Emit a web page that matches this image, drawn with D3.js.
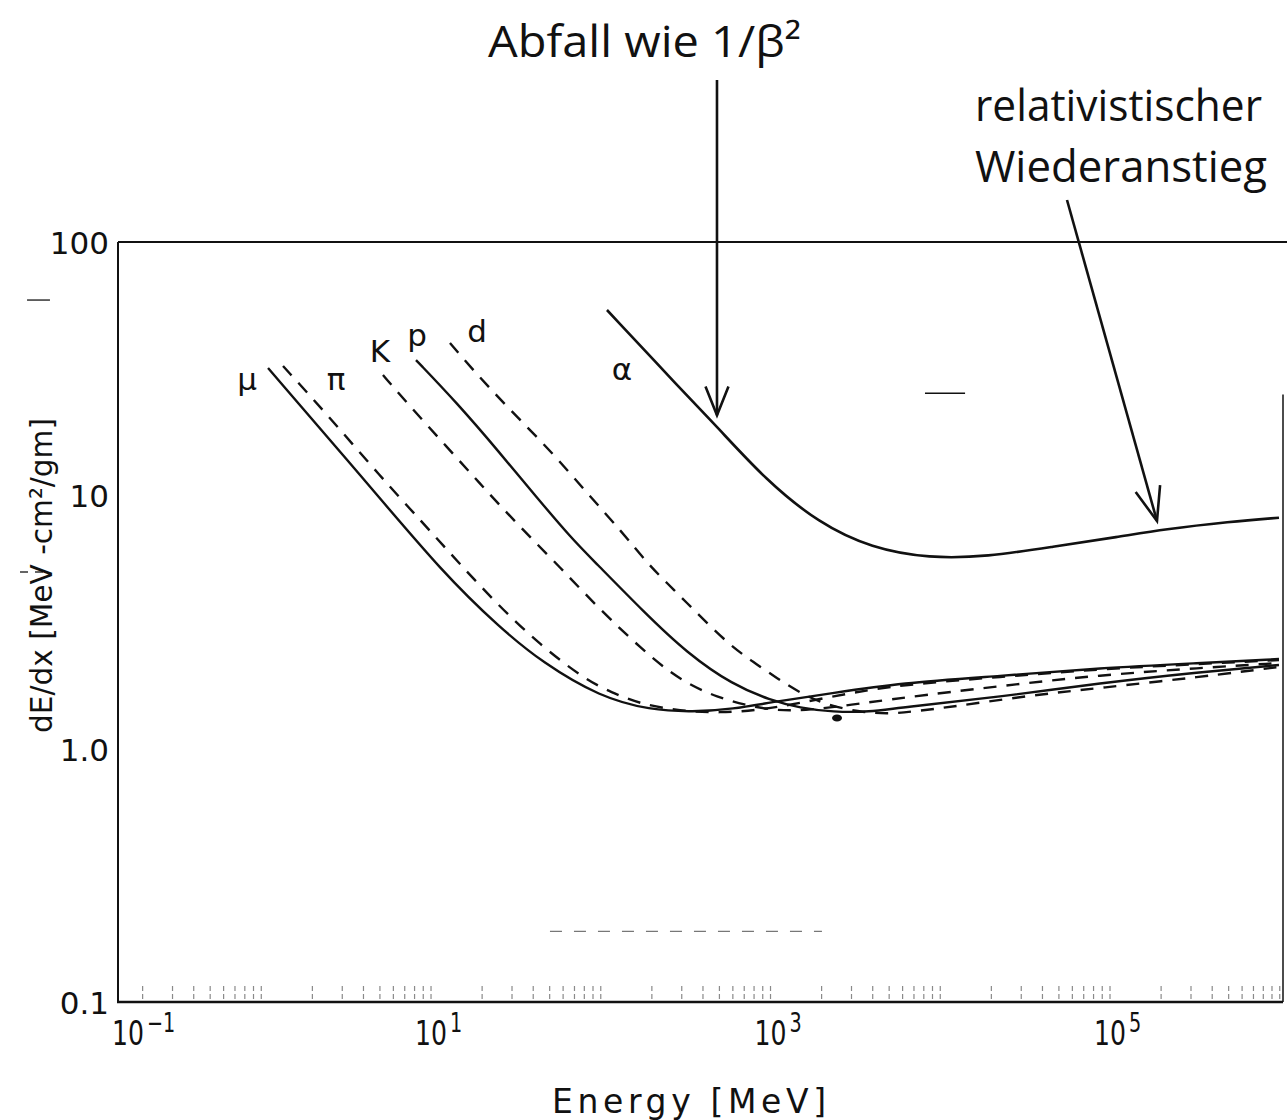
<!DOCTYPE html>
<html><head><meta charset="utf-8">
<script src="https://cdn.jsdelivr.net/npm/d3@7"></script>
<style>html,body{margin:0;padding:0;background:#fff;} svg{display:block;}</style>
</head><body>
<svg id="chart" width="1287" height="1120"></svg>
<script>
// ---- data (kinetic energy [MeV], dE/dx [MeV cm^2/g]) ----
const muData = [[1.096,31.8],[4.20,11.19],[11.77,4.94],[25.5,2.995],[45.7,2.178],[99.0,1.599],[195,1.421],[349,1.395],[601,1.434],[1034,1.528],[2334,1.658],[5791,1.816],[22490,1.936],[87300,2.082],[338800,2.178],[989700,2.259]];
const piData = [[1.343,32.4],[2.374,21.3],[5.07,11.81],[8.85,7.85],[14.42,5.455],[24.8,3.69],[43.9,2.566],[81.8,1.866],[114.9,1.673],[170.3,1.501],[293,1.408],[504,1.383],[867,1.421],[1492,1.514],[2939,1.658],[5791,1.784],[22490,1.919],[87300,2.063],[338800,2.159],[989700,2.239]];
const kaonData = [[5.21,29.85],[7.22,23.15],[12.42,15.51],[20.24,10.79],[33.4,7.50],[57.5,5.21],[99.0,3.53],[177.3,2.452],[245.6,2.044],[335.4,1.784],[483.8,1.599],[707.4,1.487],[1092,1.408],[1708,1.421],[2939,1.487],[5791,1.585],[22490,1.767],[87300,1.953],[338800,2.082],[989700,2.178]];
const protonData = [[8.155,34.2],[14.23,23.15],[25.5,14.69],[39.9,10.21],[68.6,6.66],[90.0,5.555],[182,3.43],[322,2.385],[601,1.784],[993,1.556],[1492,1.447],[2334,1.395],[3855,1.395],[5791,1.455],[22490,1.599],[87300,1.816],[338800,2.007],[989700,2.139]];
const deuteronData = [[12.93,39.94],[17.67,31.24],[29.2,21.72],[50.2,15.10],[82.97,10.21],[135.2,7.10],[187.3,5.407],[245.6,4.507],[322,3.758],[422.5,3.133],[577,2.566],[788.5,2.198],[1092,1.900],[1492,1.658],[2151,1.487],[3366,1.395],[5056,1.370],[7296,1.408],[11410,1.460],[35180,1.628],[87300,1.736],[338800,1.919],[989700,2.101]];
const alphaData = [[108.8,53.9],[299.4,26.05],[483.8,18.66],[936.9,11.5],[1925,7.76],[3950,6.18],[8630,5.64],[18820,5.72],[46130,6.27],[113900,6.865],[207400,7.34],[510500,7.87],[989700,8.16]];

const seriesNames  = ["μ","π","K","p","d","α"];
const seriesDashed = [false,true,true,false,true,false];
const labelAnchors = [[0.824,26.05],[2.755,26.05],[5.005,33.6],[8.27,38.9],[18.66,40.3],[133.4,28.5]];

const xDomain = [0.1432, 1.045e6];
const yDomain = [0.1, 100];
const xTickValues = [0.1, 10, 1000, 100000];
const xTickExponents = ["−1","1","3","5"];
const yTickValues = [100, 10, 1, 0.1];
const yTickLabels = ["100","10","1.0","0.1"];

// annotation arrows: [tail, tip] in data coords
const arrowFalling = [[483.8,436],[483.8,20.7]];
const arrowRise = [[55800,146.5],[189100,7.92]];
const strayDot = [2465,1.321];
// faint remnants of the original grid: [value, E from, E to, width, colour, dash]
const gridRemnants = [
  [25.3,8128,14000,1.6,"#111",null],
  [59,0.0417,0.0569,1.5,"#333",null],
  [4.98,0.0379,0.0569,1.4,"#333","8,7"],
  [0.19,50.2,2009,1.4,"#777","12,12"]
];

// ---- layout ----
const svg = d3.select("#chart");
const x = d3.scaleLog().domain(xDomain).range([118, 1283]);
const y = d3.scaleLog().domain(yDomain).range([1002, 242]);
const ink = "#111";
const plotFont = "DejaVu Sans, sans-serif";

// frame
svg.append("line").attr("x1",118).attr("x2",1287).attr("y1",y(100)).attr("y2",y(100)).attr("stroke",ink).attr("stroke-width",2);
svg.append("line").attr("x1",118).attr("x2",118).attr("y1",y(100)).attr("y2",y(0.1)).attr("stroke",ink).attr("stroke-width",2);
svg.append("line").attr("x1",117).attr("x2",1283).attr("y1",y(0.1)).attr("y2",y(0.1)).attr("stroke",ink).attr("stroke-width",2.5);
svg.append("line").attr("x1",1283).attr("x2",1283).attr("y1",y(25)).attr("y2",y(0.1)).attr("stroke",ink).attr("stroke-width",1.5);

// minor ticks along bottom
const minor = [];
for (let k=-1;k<=6;k++) for (let m=1;m<=9;m++){ const v=m*Math.pow(10,k); if (v>xDomain[0]*1.05 && v<xDomain[1]*0.97) minor.push(v); }
svg.append("g").selectAll("line").data(minor).join("line")
  .attr("x1",d=>x(d)).attr("x2",d=>x(d)).attr("y1",y(0.1)-3).attr("y2",y(0.1)-18)
  .attr("stroke","#8a8a8a").attr("stroke-width",1.2).attr("stroke-dasharray","5,3");

// faint grid remnants
svg.append("g").selectAll("line").data(gridRemnants).join("line")
  .attr("x1",d=>x(d[1])).attr("x2",d=>x(d[2])).attr("y1",d=>y(d[0])).attr("y2",d=>y(d[0]))
  .attr("stroke",d=>d[4]).attr("stroke-width",d=>d[3]).attr("stroke-dasharray",d=>d[5]);

// y tick labels
svg.append("g").selectAll("text").data(yTickValues).join("text")
  .attr("x",109).attr("y",d=>y(d)+12)
  .attr("text-anchor","end").attr("font-family",plotFont).attr("font-size",31)
  .attr("fill",ink).text((d,i)=>yTickLabels[i]);

// x tick labels: 10 with superscript (one text element each)
const xl = svg.append("g").selectAll("text").data(xTickValues).join("text")
  .attr("transform",d=>`translate(${Math.max(x(d), x.range()[0]+10)-16},1045) scale(0.74,1)`)
  .attr("font-family",plotFont).attr("font-size",34).attr("fill",ink);
xl.append("tspan").text("10");
xl.append("tspan").attr("dx",4).attr("dy",-13).attr("font-size",26).text((d,i)=>xTickExponents[i]);

// axis titles
svg.append("text").attr("x",552).attr("y",1113).attr("font-family",plotFont)
  .attr("font-size",33).attr("textLength",274).attr("lengthAdjust","spacing").attr("fill",ink).text("Energy [MeV]");
svg.append("text").attr("transform","translate(52,733) rotate(-90)").attr("font-family",plotFont)
  .attr("font-size",31).attr("textLength",315).attr("lengthAdjust","spacingAndGlyphs").attr("fill",ink).text("dE/dx [MeV -cm²/gm]");

// curves
const allSeries = [muData, piData, kaonData, protonData, deuteronData, alphaData];
const line = d3.line().x(d=>x(d[0])).y(d=>y(d[1])).curve(d3.curveBasis);
svg.append("g").selectAll("path").data(allSeries).join("path")
  .attr("d",line).attr("fill","none").attr("stroke",ink)
  .attr("stroke-width",(d,i)=>i===5?2.6:2.4)
  .attr("stroke-dasharray",(d,i)=>seriesDashed[i]?"13,10":null);

// stray dot
svg.append("ellipse").attr("cx",x(strayDot[0])).attr("cy",y(strayDot[1])).attr("rx",5).attr("ry",3.5).attr("fill",ink);

// particle labels
svg.append("g").selectAll("text").data(labelAnchors).join("text")
  .attr("x",d=>x(d[0])).attr("y",d=>y(d[1])).attr("text-anchor","middle")
  .attr("font-family",plotFont).attr("font-size",31).attr("fill",ink)
  .text((d,i)=>seriesNames[i]);

// arrows
function arrow(a, len, half){
  const x0=x(a[0][0]), y0=y(a[0][1]), x1=x(a[1][0]), y1=y(a[1][1]);
  const ang=Math.atan2(y0-y1, x0-x1);
  const g=svg.append("g").attr("stroke",ink).attr("stroke-width",2.6).attr("fill","none");
  g.append("line").attr("x1",x0).attr("y1",y0).attr("x2",x1).attr("y2",y1);
  const pts=[[x1+len*Math.cos(ang+half), y1+len*Math.sin(ang+half)],[x1,y1],[x1+len*Math.cos(ang-half), y1+len*Math.sin(ang-half)]];
  g.append("path").attr("d",d3.line()(pts));
}
arrow(arrowFalling, 31, 0.38);
arrow(arrowRise, 36, 0.36);

// annotations
const annFont = "Open Sans, Lato, sans-serif";
svg.append("text").attr("x",488).attr("y",57).attr("font-family",annFont).attr("font-size",44)
  .attr("textLength",313).attr("lengthAdjust","spacingAndGlyphs").attr("fill",ink).text("Abfall wie 1/β²");
svg.append("text").attr("x",975).attr("y",121).attr("font-family",annFont).attr("font-size",43)
  .attr("textLength",287).attr("lengthAdjust","spacingAndGlyphs").attr("fill",ink).text("relativistischer");
svg.append("text").attr("x",975).attr("y",182).attr("font-family",annFont).attr("font-size",43)
  .attr("textLength",292).attr("lengthAdjust","spacingAndGlyphs").attr("fill",ink).text("Wiederanstieg");
</script>
</body></html>
